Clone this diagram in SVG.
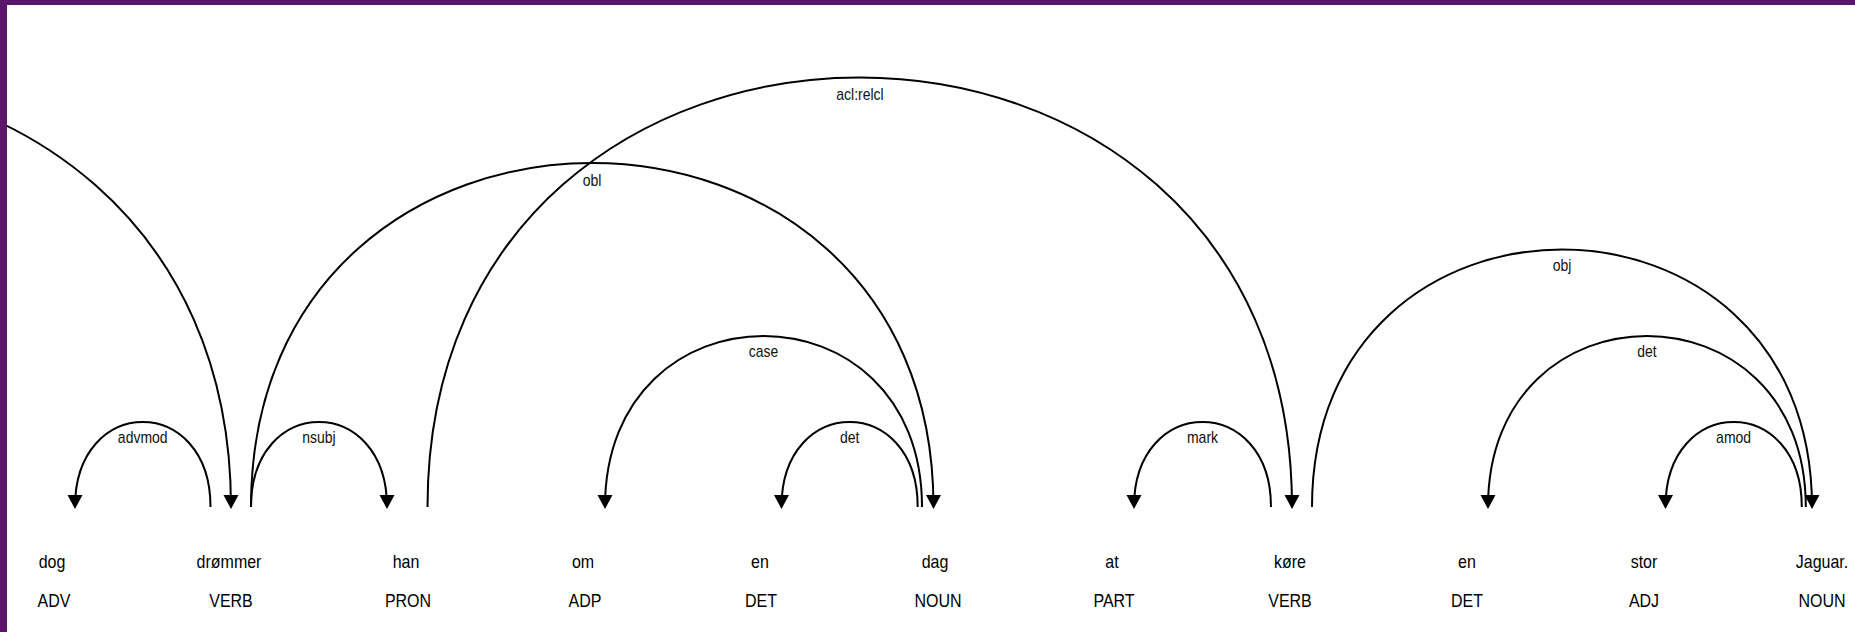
<svg xmlns="http://www.w3.org/2000/svg" width="1855" height="632" viewBox="0 0 1855 632">
  <style>
    .arc { fill: none; stroke: #000; stroke-width: 2; }
    .word { font-family: "Liberation Sans", Arial, sans-serif; font-size: 16px; fill: #000; text-anchor: middle; }
    .lbl { font-family: "Liberation Sans", Arial, sans-serif; font-size: 14px; fill: #111; text-anchor: middle; }
  </style>
  <defs>
    <marker id="arrow" markerUnits="userSpaceOnUse" markerWidth="16" markerHeight="16" viewBox="0 -8 16 16" refX="12" refY="0" orient="auto">
      <path d="M0,-7.5 L14,0 L0,7.5 Z" fill="#000"/>
    </marker>
  </defs>
  <rect x="0" y="0" width="1855" height="632" fill="#fff"/>

  <g id="connectors">
    <g id="arc-left">
      <path class="arc" d="M -639 507 C -639 -65.7, 231 -65.7, 231 507" marker-end="url(#arrow)"/>
    </g>
    <g id="arc-advmod">
      <path class="arc" d="M 210.5 507 C 210.5 393.7, 75 393.7, 75 507" marker-end="url(#arrow)"/>
      <text class="lbl" transform="translate(142.75,443) scale(1,1.2)">advmod</text>
    </g>
    <g id="arc-nsubj">
      <path class="arc" d="M 251 507 C 251 393.7, 387 393.7, 387 507" marker-end="url(#arrow)"/>
      <text class="lbl" transform="translate(319,443) scale(1,1.2)">nsubj</text>
    </g>
    <g id="arc-obl">
      <path class="arc" d="M 251 507 C 251 48.3, 933.5 48.3, 933.5 507" marker-end="url(#arrow)"/>
      <text class="lbl" transform="translate(592,186) scale(1,1.2)">obl</text>
    </g>
    <g id="arc-aclrelcl">
      <path class="arc" d="M 427.5 507 C 427.5 -65.7, 1292 -65.7, 1292 507" marker-end="url(#arrow)"/>
      <text class="lbl" transform="translate(860,100) scale(1,1.2)">acl:relcl</text>
    </g>
    <g id="arc-case">
      <path class="arc" d="M 922 507 C 922 279, 605 279, 605 507" marker-end="url(#arrow)"/>
      <text class="lbl" transform="translate(763.5,357) scale(1,1.2)">case</text>
    </g>
    <g id="arc-det1">
      <path class="arc" d="M 917.7 507 C 917.7 393.7, 781.5 393.7, 781.5 507" marker-end="url(#arrow)"/>
      <text class="lbl" transform="translate(849.6,443) scale(1,1.2)">det</text>
    </g>
    <g id="arc-mark">
      <path class="arc" d="M 1271 507 C 1271 393.7, 1134 393.7, 1134 507" marker-end="url(#arrow)"/>
      <text class="lbl" transform="translate(1202.5,443) scale(1,1.2)">mark</text>
    </g>
    <g id="arc-obj">
      <path class="arc" d="M 1312 507 C 1312 163.7, 1812 163.7, 1812 507" marker-end="url(#arrow)"/>
      <text class="lbl" transform="translate(1562,271) scale(1,1.2)">obj</text>
    </g>
    <g id="arc-det2">
      <path class="arc" d="M 1805.8 507 C 1805.8 279, 1488 279, 1488 507" marker-end="url(#arrow)"/>
      <text class="lbl" transform="translate(1647,357) scale(1,1.2)">det</text>
    </g>
    <g id="arc-amod">
      <path class="arc" d="M 1801.8 507 C 1801.8 393.7, 1665.5 393.7, 1665.5 507" marker-end="url(#arrow)"/>
      <text class="lbl" transform="translate(1733.6,443) scale(1,1.2)">amod</text>
    </g>
  </g>

  <g id="w0"><text class="word" transform="translate(52,568) scale(1,1.2)">dog</text><text class="word" transform="translate(54,607) scale(1,1.2)">ADV</text></g>
  <g id="w1"><text class="word" transform="translate(229,568) scale(1,1.2)">drømmer</text><text class="word" transform="translate(231,607) scale(1,1.2)">VERB</text></g>
  <g id="w2"><text class="word" transform="translate(406,568) scale(1,1.2)">han</text><text class="word" transform="translate(408,607) scale(1,1.2)">PRON</text></g>
  <g id="w3"><text class="word" transform="translate(583,568) scale(1,1.2)">om</text><text class="word" transform="translate(585,607) scale(1,1.2)">ADP</text></g>
  <g id="w4"><text class="word" transform="translate(760,568) scale(1,1.2)">en</text><text class="word" transform="translate(761,607) scale(1,1.2)">DET</text></g>
  <g id="w5"><text class="word" transform="translate(935,568) scale(1,1.2)">dag</text><text class="word" transform="translate(938,607) scale(1,1.2)">NOUN</text></g>
  <g id="w6"><text class="word" transform="translate(1112,568) scale(1,1.2)">at</text><text class="word" transform="translate(1114,607) scale(1,1.2)">PART</text></g>
  <g id="w7"><text class="word" transform="translate(1290,568) scale(1,1.2)">køre</text><text class="word" transform="translate(1290,607) scale(1,1.2)">VERB</text></g>
  <g id="w8"><text class="word" transform="translate(1467,568) scale(1,1.2)">en</text><text class="word" transform="translate(1467,607) scale(1,1.2)">DET</text></g>
  <g id="w9"><text class="word" transform="translate(1644,568) scale(1,1.2)">stor</text><text class="word" transform="translate(1644,607) scale(1,1.2)">ADJ</text></g>
  <g id="w10"><text class="word" transform="translate(1822,568) scale(1,1.2)">Jaguar.</text><text class="word" transform="translate(1822,607) scale(1,1.2)">NOUN</text></g>

  <g id="frame">
    <rect x="0" y="0" width="1855" height="5" fill="#5a1668"/>
    <rect x="0" y="0" width="7" height="632" fill="#5a1668"/>
  </g>
</svg>
